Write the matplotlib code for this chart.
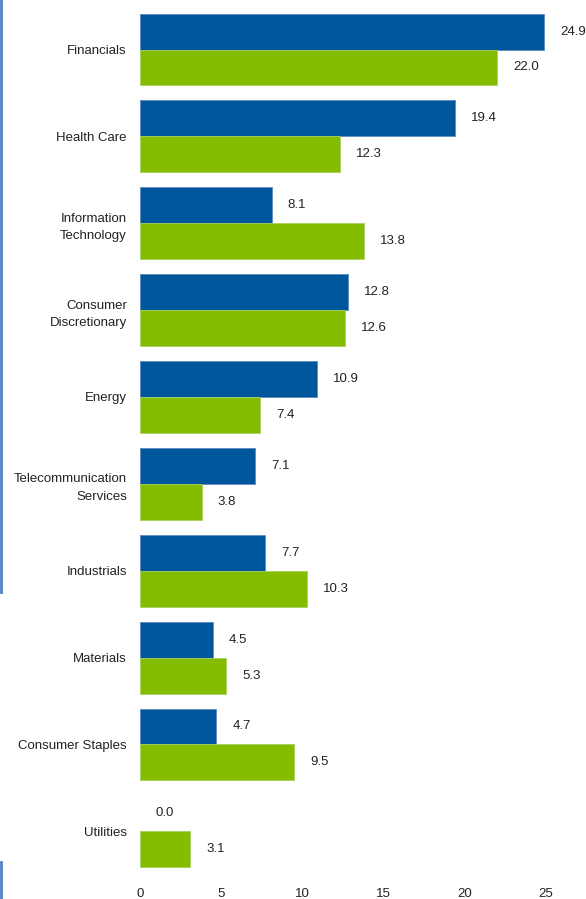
import numpy as np
import matplotlib.pyplot as plt
from matplotlib.lines import Line2D

plt.rcParams['font.family'] = ['Liberation Sans', 'DejaVu Sans']

# Sector data
sectors = ['Financials', 'Health Care', 'Information\nTechnology', 'Consumer\nDiscretionary',
           'Energy', 'Telecommunication\nServices', 'Industrials', 'Materials',
           'Consumer Staples', 'Utilities']
series_blue = [24.9, 19.4, 8.1, 12.8, 10.9, 7.1, 7.7, 4.5, 4.7, 0.0]
series_green = [22.0, 12.3, 13.8, 12.6, 7.4, 3.8, 10.3, 5.3, 9.5, 3.1]
xticks = [0, 5, 10, 15, 20, 25]

blue = '#00569B'
green = '#84BC00'

fig = plt.figure(figsize=(5.86, 8.99), dpi=100)
ax = fig.add_axes([140 / 586, 1 - 880 / 899, 406 / 586, 880 / 899])

y = np.arange(len(sectors))
h = 0.414
lw_blue = [0.6 if v > 0 else 0 for v in series_blue]
ax.barh(y - h / 2, series_blue, height=h, color=blue, edgecolor='#5A8CC0', linewidth=lw_blue)
ax.barh(y + h / 2, series_green, height=h, color=green, edgecolor='#A8D060', linewidth=0.6)

# Value labels
for yi, v in zip(y, series_blue):
    ax.annotate(f'{v:.1f}', (v, yi - h / 2), xytext=(16, 0), textcoords='offset pixels',
                va='center', ha='left', fontsize=9.5, color='#222222')
for yi, v in zip(y, series_green):
    ax.annotate(f'{v:.1f}', (v, yi + h / 2), xytext=(16, 0), textcoords='offset pixels',
                va='center', ha='left', fontsize=9.5, color='#222222')

ax.set_xlim(0, 25)
ax.set_ylim(9.56, -0.57)
ax.set_yticks(y)
ax.set_yticklabels(sectors, fontsize=9.5, color='#222222', linespacing=1.6)
ax.set_xticks(xticks)
ax.set_xticklabels([str(t) for t in xticks], fontsize=9.5, color='#222222')
ax.tick_params(axis='y', length=0, pad=9.5)
ax.tick_params(axis='x', length=0, pad=6)
for s in ax.spines.values():
    s.set_visible(False)

# Decorative left border lines
fig.add_artist(Line2D([1 / 586, 1 / 586], [1, 1 - 592 / 899], color='#4F81BD', lw=2))
fig.add_artist(Line2D([1 / 586, 1 / 586], [1 - 862 / 899, 0], color='#4F81BD', lw=2))

fig.savefig('out.png', dpi=100)
